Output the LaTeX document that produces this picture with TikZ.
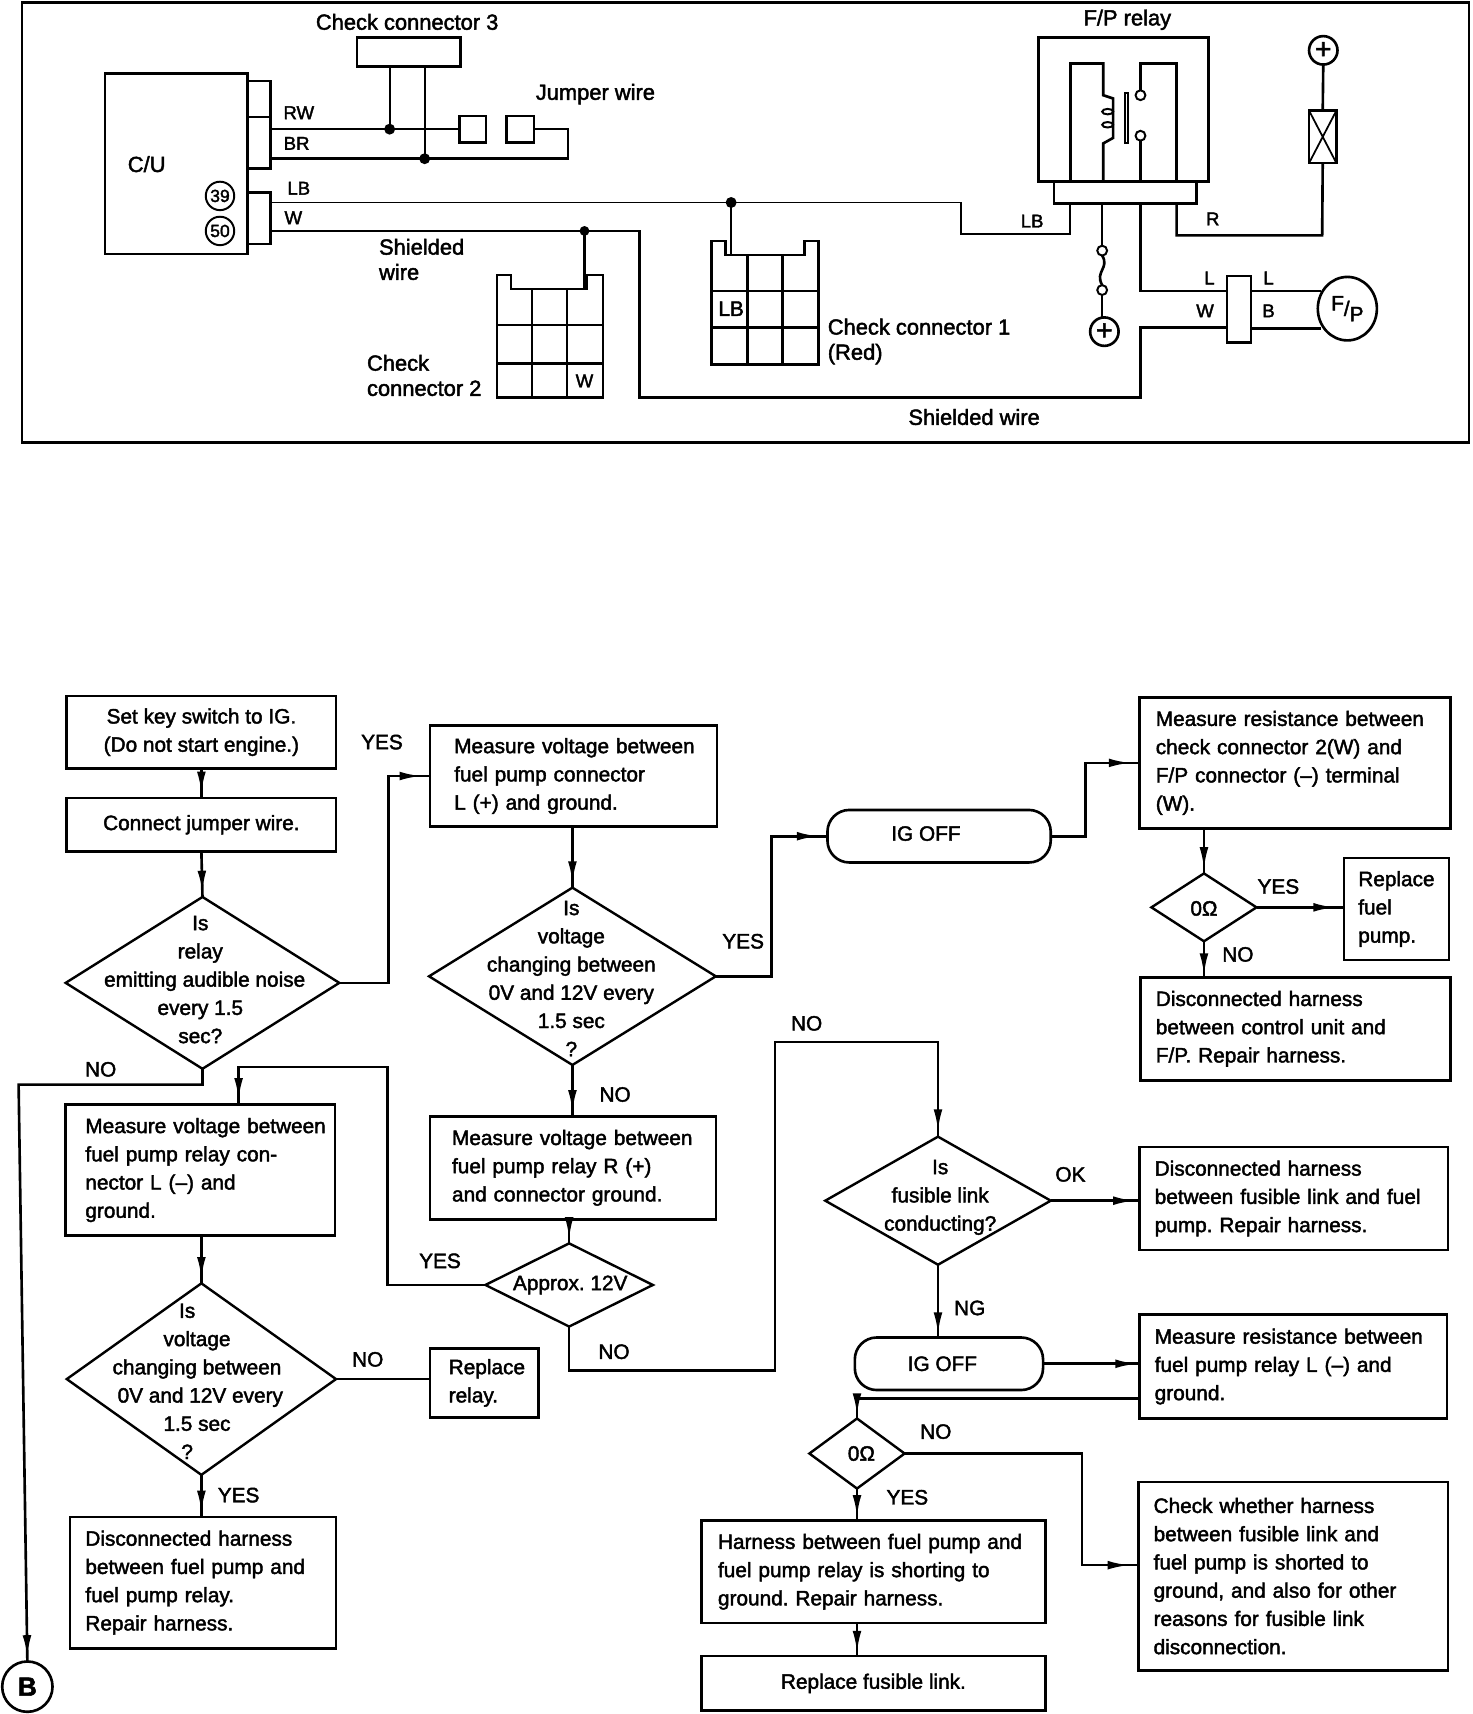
\documentclass[tikz,border=0pt]{standalone}
\usepackage{fontspec}
\setmainfont{Liberation Sans}[RawFeature={embolden=2.0}]
\usetikzlibrary{arrows.meta,decorations.markings,shapes.geometric}
\frenchspacing
\tikzset{
  every node/.style={font=\fontsize{19}{25.8}\selectfont, outer sep=0pt},
  wire/.style={line width=2.4pt},
  thin wire/.style={line width=1.8pt},
  part/.style 2 args={draw, line width=2.4pt, anchor=north west, inner sep=0pt, minimum width=#1pt, minimum height=#2pt},
  fbox/.style n args={3}{draw, line width=2.4pt, anchor=north west, align=left, inner ysep=0pt, inner xsep=#3pt, text width=#1pt-2*#3pt, minimum height=#2pt},
  cbox/.style 2 args={draw, line width=2.4pt, anchor=north west, align=center, inner sep=0pt, minimum width=#1pt, minimum height=#2pt},
  term/.style 2 args={draw, line width=2.4pt, anchor=north west, rounded corners=20pt, inner sep=0pt, minimum width=#1pt, minimum height=#2pt},
  dia/.style 2 args={draw, diamond, line width=2.2pt, inner sep=0pt, minimum width=#1pt, minimum height=#2pt},
  dtext/.style={align=center, inner sep=0pt},
  big/.style={font=\fontsize{20}{23}\selectfont},
  small/.style={font=\fontsize{17}{22}\selectfont},
  pin/.style={draw, circle, line width=1.8pt, inner sep=0pt, minimum size=9pt},
  plus/.style={draw, circle, line width=2.4pt, inner sep=0pt, minimum size=26pt, font=\fontsize{26}{26}\selectfont},
  num/.style={draw, circle, line width=1.8pt, inner sep=0pt, minimum size=26pt, font=\fontsize{16}{16}\selectfont},
  flow/.style={wire, postaction={decorate}, decoration={markings, mark=at position -#1 with {\arrow{Latex[length=20pt,width=8pt]}}}},
  flow/.default=4pt
}
\begin{document}
\begin{tikzpicture}[x=1pt,y=-1pt]
\useasboundingbox (0,0) rectangle (1345,1566);
% Frame
\node[part={1322}{402}] (frame) at (20,2) {};
% Control unit
\node[part={130}{165}] (cu) at (96,67) {};
\node[part={21}{33}] (cua) at (226,74) {};
\node[part={21}{47}] (cub) at (226,107) {};
\node[part={21}{47}] (cuc) at (226,176) {};
\node[big] (cutxt) at (134,150) {C/U};
\node[num] (n39) at (201,179) {39};
\node[num] (n50) at (201,211) {50};
% Check connector 3
\node[big] (chk3txt) at (372,20) {Check connector 3};
\node[part={95}{27}] (chk3) at (326,34) {};
\coordinate (rw) at (356,118);
\coordinate (br) at (388,145);
\draw[thin wire] (rw |- chk3.south) -- (rw);
\draw[thin wire] (br |- chk3.south) -- (br);
\fill (rw) circle (5pt);
\fill (br) circle (5pt);
% Jumper wire
\node[big] (jmptxt) at (544,86) {Jumper wire};
\node[part={24}{24}] (jmpa) at (420,106) {};
\node[part={25}{24}] (jmpb) at (463,106) {};
\draw[wire] (cub.east |- rw) -- (jmpa.west |- rw);
\draw[wire] (jmpb.east |- rw) -- (519,118) -- (519,145) -- (cub.east |- br);
\node[small] (rwtxt) at (273,103) {RW};
\node[small] (brtxt) at (271,131) {BR};
% Check connector 1
\coordinate (lbj) at (668,185);
\draw[line width=2.2pt] (650,333) -- (650,220) -- (663,220) -- (663,233) -- (735,233) -- (735,220) -- (748,220) -- (748,333) -- cycle;
\draw[wire] (683,233) -- (683,333) (715,233) -- (715,333);
\draw[wire] (650,266) -- (748,266) (650,299) -- (748,299);
\node (lbcell) at (668,282) {LB};
\node[big] (chk1txt) at (753,312) [anchor=west,align=left] {Check connector 1\\(Red)};
% Check connector 2
\coordinate (wj) at (534,211);
\draw[line width=2.2pt] (454,363) -- (454,251) -- (467,251) -- (467,264) -- (536,264) -- (536,251) -- (551,251) -- (551,363) -- cycle;
\draw[wire] (486,264) -- (486,363) (518,264) -- (518,363);
\draw[wire] (454,297) -- (551,297) (454,332) -- (551,332);
\node[small] (wcell) at (534,348) {W};
\node[big] (chk2txt) at (332,343) [anchor=west,align=left] {Check\\connector 2};
\node[big] (shtxt) at (343,237) [anchor=west,align=left] {Shielded\\wire};
% LB and W wires
\node[small] (lbtxt) at (273,172) {LB};
\node[small] (wtxt) at (268,199) {W};
\draw[wire] (wj) -- (wj |- 0,264);
\draw[wire] (lbj) -- (lbj |- 0,233);
\fill (lbj) circle (5pt);
\fill (wj) circle (4.5pt);
% Relay
\node[big] (relaytxt) at (1030,18) {F/P relay};
\node[part={155}{132}] (relay) at (949,34) {};
\node[part={130}{20}] (base) at (963,166) {};
\draw[wire] (978,166) -- (978,58) -- (1008,58) -- (1008,87) -- (1017,90) -- (1017,126) -- (1008,131) -- (1008,166);
\draw[thin wire] (1012,102) ellipse (5pt and 2.5pt) (1012,114) ellipse (5pt and 2.5pt);
\draw[thin wire] (1028,85) rectangle (1031,131);
\node[pin] (cona) at (1042,87) {};
\node[pin] (conb) at (1042,124) {};
\draw[wire] (cona.north) -- (1042,58) -- (1075,58) -- (1075,166);
\draw[wire] (conb.south) -- (1042,166);
\draw[thin wire] (cuc.east |- lbj) -- (878,185) -- (878,214) -- (978,214) -- (978,186);
\node[small] (lb2txt) at (943,202) {LB};
% Fuse and battery feed
\node[plus] (plusa) at (1209,46) {+};
\node[part={25}{48}] (fuse) at (1196,101) {};
\draw[line width=1.6pt] (fuse.north west) -- (fuse.south east) (fuse.north east) -- (fuse.south west);
\draw[wire] (plusa.south) -- (fuse.north);
\draw[wire] (1075,186) -- (1075,215) -- (1208,215) -- (fuse.south);
\node[small] (rtxt) at (1108,200) {R};
% Fusible link
\node[pin] (fla) at (1007,229) {};
\node[pin] (flb) at (1007,265) {};
\node[plus] (plusb) at (1009,303) {+};
\draw[wire] (1007,186) -- (fla.north);
\draw[wire] (fla.south) .. controls (1014,245) and (1000,248) .. (flb.north);
\draw[wire] (flb.south) -- (plusb.north -| flb);
% Fuel pump connector
\node[part={22}{61}] (fpc) at (1121,252) {};
\node[draw, ellipse, line width=2.4pt, inner sep=0pt, minimum width=54pt, minimum height=58pt] (fp) at (1231,282) {\raisebox{5pt}{F}/\raisebox{-5pt}{P}};
\draw[wire] (1042,186) -- (1042,266) -- (fpc.west |- 0,266);
\draw[wire] (fpc.east |- 0,266) -- (1207,266);
\draw[wire] (fpc.east |- 0,300) -- (1207,300);
\draw[wire] (cuc.east |- wj) -- (584,211) -- (584,363) -- (1042,363) -- (1042,299) -- (fpc.west |- 0,299);
\node[small] (l1txt) at (1105,254) {L};
\node[small] (l2txt) at (1159,254) {L};
\node[small] (w2txt) at (1101,284) {W};
\node[small] (b2txt) at (1159,284) {B};
\node[big] (sh2txt) at (890,381) {Shielded wire};
% Flow chart: left column
\node[cbox={246}{66}] (set) at (61,636) {Set key switch to IG.\\(Do not start engine.)};
\node[cbox={246}{49}] (jump) at (61,729) {\raisebox{3pt}{Connect jumper wire.}};
\node[dia={250}{157}] (q1) at (185,898) {};
\node[dtext] (q1txt) at (183,895) {Is\\relay\\\hspace*{8pt}emitting audible noise\\every 1.5\hspace*{18pt}\\sec?};
\node[fbox={246}{120}{18}] (meas2) at (60,1009) {\mbox{Measure voltage between}\\fuel pump relay con-\\nector L (--) and\\ground.};
\node[dia={246}{175}] (q3) at (184,1260) {};
\node[dtext] (q3txt) at (180,1262) {Is\hspace*{18pt}\\voltage\hspace*{18pt}\\changing between\\\hspace*{6pt}0V and 12V every\\1.5 sec\\?\hspace*{18pt}};
\node[fbox={243}{120}{14}] (disc1) at (64,1386) {Disconnected harness\\between fuel pump and\\fuel pump relay.\\Repair harness.};
\node[circle, draw, line width=2.4pt, inner sep=0pt, minimum size=46pt, font=\fontsize{24}{24}\bfseries\selectfont] (B) at (25,1541) {B};
\coordinate (down) at (17,991);
\draw[flow] (q1.south) |- (down) -- (B.north);
\draw[flow] (set.south) -- (jump.north);
\draw[flow] (jump.south) -- (q1.north);
\draw[flow] (q3.north |- meas2.south) -- (q3.north);
\draw[flow] (q3.south) -- (q3.south |- disc1.north);
\node (yes1) at (349,678) {YES};
\node (no1) at (92,977) {NO};
\node (no3) at (336,1242) {NO};
\node (yes3) at (218,1366) {YES};
% Flow chart: middle column
\node[fbox={262}{92}{22}] (meas1) at (393,663) {\mbox{Measure voltage between}\\fuel pump connector\\L (+) and ground.};
\node[dia={262}{162}] (q2) at (523,892) {};
\node[dtext] (q2txt) at (522,894) {Is\\voltage\\changing between\\0V and 12V every\\1.5 sec\\?};
\node[fbox={261}{94}{20}] (meas3) at (393,1020) {\mbox{Measure voltage between}\\fuel pump relay R (+)\\and connector ground.};
\node[dia={153}{76}] (q4) at (520,1174) {};
\node[dtext] (q4txt) at (521,1174) {Approx. 12V};
\node[fbox={99}{63}{17}] (replrelay) at (393,1232) {Replace\\relay.};
\draw[flow=8pt] (q1.east) -- ++(45,0) |- (meas1.west);
\draw[flow] (q2.north |- meas1.south) -- (q2.north);
\draw[flow] (q2.south) -- (q2.south |- meas3.north);
\draw[flow] (q4.north |- meas3.south) -- (q4.north);
\coordinate (ret1) at (354,975);
\coordinate (ret2) at (218,975);
\draw[flow] (q4.west) -| (ret1) -- (ret2) -- (ret2 |- meas2.north);
\draw[wire] (q3.east) -- (replrelay.west |- q3.east);
\node (no2) at (562,1000) {NO};
\node (yes4) at (402,1152) {YES};
\node (no4) at (561,1235) {NO};
\node (yes2) at (679,860) {YES};
% Flow chart: upper right
\node[term={204}{48}] (off1) at (756,740) {\raisebox{5pt}{\hspace*{-24pt}IG OFF}};
\node[fbox={284}{120}{15}] (resist1) at (1041,637) {Measure resistance between\\check connector 2(W) and\\F/P connector (--) terminal\\(W).};
\node[dia={96}{62}] (q5) at (1100,829) {};
\node[dtext] (q5txt) at (1100,830) {0Ω};
\node[fbox={96}{93}{13}] (replfuel) at (1228,784) {Replace\\fuel\\pump.};
\node[fbox={283}{94}{14}] (disc2) at (1042,893) {Disconnected harness\\between control unit and\\F/P. Repair harness.};
\draw[flow=8pt] (q2.east) -- ++(51,0) |- (off1.west);
\draw[flow=8pt] (off1.east) -- ++(32,0) |- (resist1.west);
\draw[flow] (q5.north |- resist1.south) -- (q5.north);
\draw[flow=8pt] (q5.east) -- (replfuel.west |- q5.east);
\draw[flow=2pt] (q5.south) -- (q5.south |- disc2.north);
\node (yes5) at (1168,810) {YES};
\node (no5) at (1131,872) {NO};
% Flow chart: lower right
\node[dia={206}{117}] (q6) at (857,1097) {};
\node[dtext] (q6txt) at (859,1094) {Is\\fusible link\\conducting?};
\node[fbox={282}{94}{14}] (disc3) at (1041,1048) {Disconnected harness\\between fusible link and fuel\\pump. Repair harness.};
\node[term={172}{48}] (off2) at (781,1222) {\hspace*{-12pt}IG OFF};
\node[fbox={281}{95}{14}] (resist2) at (1041,1201) {Measure resistance between\\fuel pump relay L (--) and\\ground.};
\node[dia={87}{64}] (q7) at (783,1328) {};
\node[dtext] (q7txt) at (787,1328) {0Ω};
\node[fbox={283}{172}{14}] (check) at (1040,1354) {Check whether harness\\between fusible link and\\fuel pump is shorted to\\ground, and also for other\\reasons for fusible link\\disconnection.};
\node[fbox={314}{94}{15}] (harness) at (641,1389) {Harness between fuel pump and\\fuel pump relay is shorting to\\ground. Repair harness.};
\node[cbox={314}{50}] (replfus) at (641,1513) {Replace fusible link.};
\coordinate (no6) at (708,952);
\draw[flow=5pt] (q4.south) -- (q4.south |- 0,1252) -| (no6) -| (q6.north);
\draw[flow=4pt] (q6.east) -- (disc3.west |- q6.east);
\draw[flow=3pt] (q6.south) -- (q6.south |- off2.north);
\draw[flow=2pt] (off2.east) -- (off2.east -| resist2.west);
\draw[flow=3pt] ([yshift=-29pt]resist2.west) -| (q7.north);
\draw[flow=8pt] (q7.east) -- ++(162,0) |- ([yshift=10pt]check.west);
\draw[flow=3pt] (q7.south) -- (q7.south |- harness.north);
\draw[flow=3pt] (q7.south |- harness.south) -- (q7.south |- replfus.north);
\node (no7) at (737,935) {NO};
\node (ok6) at (978,1073) {OK};
\node (ng6) at (886,1195) {NG};
\node (no8) at (855,1308) {NO};
\node (yes7) at (829,1368) {YES};
\end{tikzpicture}
\end{document}
